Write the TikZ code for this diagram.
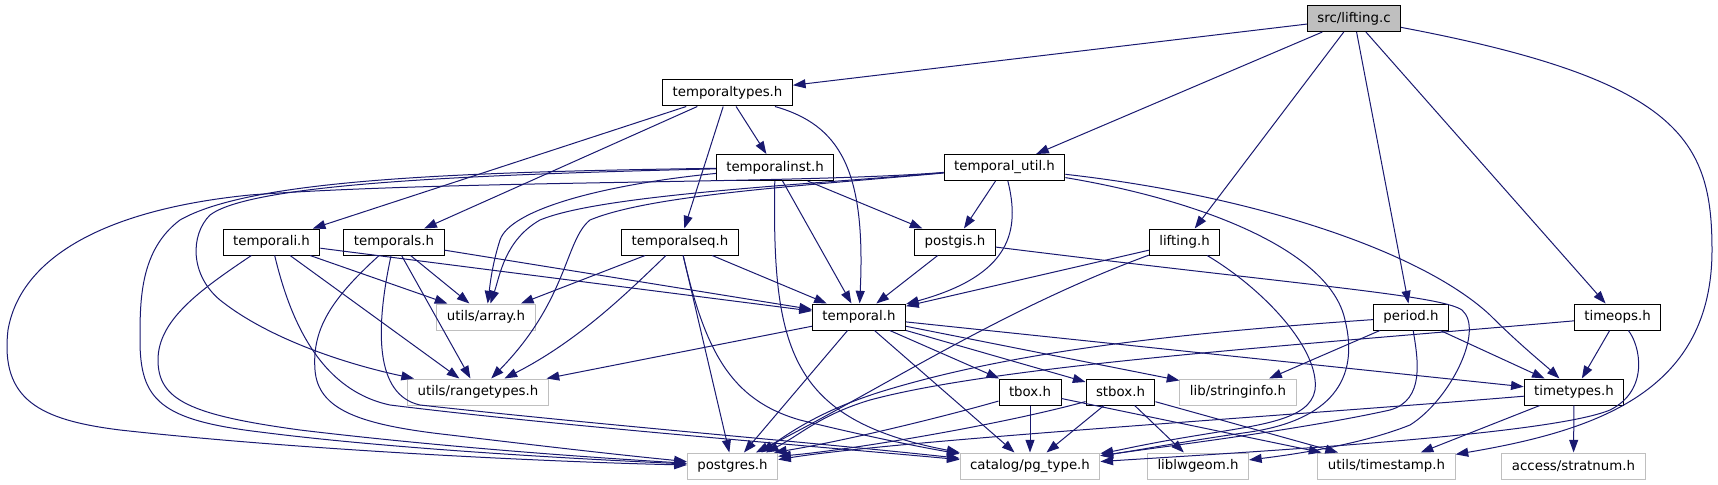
\documentclass[tikz,border=0pt]{standalone}
\usepackage{fontspec}
\setmainfont{DejaVu Sans}
\usetikzlibrary{arrows.meta}
\definecolor{incblue}{RGB}{25,25,112}

\begin{document}
\begin{tikzpicture}[x=0.75pt,y=-0.75pt,
  hdr/.style={draw=black,line width=0.75pt,fill=white,inner xsep=7.5pt,inner ysep=0pt,
    minimum height=19.5pt,font=\fontsize{10}{12}\selectfont},
  sys/.style={hdr,draw=black!25},
  inc/.style={draw=incblue,line width=0.75pt,-{Triangle[length=9.5pt,width=6.75pt]}}]

\useasboundingbox (0,0) rectangle (1718,485);

% Source file
\node[hdr,fill=black!25] (lifc) at (1354,18.5) {src/lifting.c};

% Headers
\node[hdr] (ttypes) at (727.5,93) {temporaltypes.h};
\node[hdr] (tinst) at (775,167.5) {temporalinst.h};
\node[hdr] (tutil) at (1004.5,167.5) {temporal\_util.h};
\node[hdr] (tempi) at (271.5,242) {temporali.h};
\node[hdr] (temps) at (394,242) {temporals.h};
\node[hdr] (tseq) at (680,242) {temporalseq.h};
\node[hdr] (pgis) at (955,242) {postgis.h};
\node[hdr] (lifth) at (1184.5,242) {lifting.h};
\node[sys] (array) at (486,317) {utils/array.h};
\node[hdr] (temporal) at (859,317) {temporal.h};
\node[hdr] (period) at (1411,317) {period.h};
\node[hdr] (timeops) at (1617.5,317) {timeops.h};
\node[sys] (range) at (478,392) {utils/rangetypes.h};
\node[hdr] (tbox) at (1030,392) {tbox.h};
\node[hdr] (stbox) at (1120.5,392) {stbox.h};
\node[sys] (strinfo) at (1238,392) {lib/stringinfo.h};
\node[hdr] (timetypes) at (1574,392) {timetypes.h};

% System headers
\node[sys] (postgres) at (732.5,466) {postgres.h};
\node[sys] (pgtype) at (1030,466) {catalog/pg\_type.h};
\node[sys] (lwgeom) at (1198,466) {liblwgeom.h};
\node[sys] (tstamp) at (1386.5,466) {utils/timestamp.h};
\node[sys] (stratnum) at (1573.5,466) {access/stratnum.h};

% src/lifting.c
\foreach \t in {ttypes,tutil,lifth,period,timeops}
  \draw[inc] (lifc) -- (\t);
\draw[inc] (lifc) .. controls (1680,80) and (1712,140) .. (1712,250)
  .. controls (1712,390) and (1600,430) .. (tstamp);

% temporaltypes.h
\foreach \t in {tempi,temps,tseq,tinst}
  \draw[inc] (ttypes) -- (\t);
\draw[inc] (ttypes) .. controls (840,125) and (866,170) .. (temporal);

% temporalinst.h
\draw[inc] (tinst) -- (temporal);
\draw[inc] (tinst) -- (pgis);
\draw[inc] (tinst) .. controls (450,172) and (250,180) .. (180,220)
  .. controls (140,250) and (140,300) .. (140,340)
  .. controls (140,400) and (160,420) .. (260,432)
  .. controls (400,450) and (600,460) .. (postgres);
\draw[inc] (tinst) .. controls (450,175) and (250,185) .. (210,215)
  .. controls (190,235) and (190,275) .. (220,300)
  .. controls (270,340) and (350,365) .. (range);
\draw[inc] (tinst) .. controls (600,185) and (510,210) .. (500,240)
  .. controls (492,265) and (490,285) .. (array);
\draw[inc] (tinst) .. controls (772,350) and (790,420) .. (pgtype);

% temporal_util.h
\draw[inc] (tutil) -- (pgis);
\draw[inc] (tutil) .. controls (1020,230) and (1012,275) .. (temporal);
\draw[inc] (tutil) .. controls (800,184) and (450,180) .. (250,195)
  .. controls (100,210) and (20,260) .. (8,330)
  .. controls (0,400) and (40,420) .. (120,430)
  .. controls (300,450) and (550,462) .. (postgres);
\draw[inc] (tutil) .. controls (800,185) and (600,195) .. (540,220)
  .. controls (505,240) and (500,275) .. (array);
\draw[inc] (tutil) .. controls (800,186) and (650,195) .. (590,220)
  .. controls (565,240) and (568,300) .. (range);
\draw[inc] (tutil) .. controls (1200,200) and (1330,250) .. (1345,320)
  .. controls (1360,380) and (1330,420) .. (1250,432)
  .. controls (1180,442) and (1140,450) .. (pgtype);
\draw[inc] (tutil) .. controls (1250,195) and (1420,250) .. (1490,315)
  .. controls (1520,345) and (1545,365) .. (timetypes);

% temporali.h, temporals.h, temporalseq.h
\foreach \s in {tempi,temps}
  \foreach \t in {array,range,temporal}
    \draw[inc] (\s) -- (\t);
\draw[inc] (tempi) .. controls (200,290) and (158,320) .. (158,360)
  .. controls (158,400) and (190,415) .. (300,430)
  .. controls (450,448) and (600,458) .. (postgres);
\draw[inc] (tempi) .. controls (290,320) and (320,390) .. (390,405)
  .. controls (550,425) and (800,445) .. (pgtype);
\draw[inc] (temps) .. controls (330,300) and (312,330) .. (315,370)
  .. controls (318,410) and (360,425) .. (450,435)
  .. controls (550,447) and (620,455) .. (postgres);
\draw[inc] (temps) .. controls (375,330) and (375,395) .. (420,405)
  .. controls (600,425) and (820,443) .. (pgtype);
\draw[inc] (tseq) -- (array);
\draw[inc] (tseq) -- (postgres);
\draw[inc] (tseq) -- (temporal);
\draw[inc] (tseq) .. controls (630,290) and (580,340) .. (range);
\draw[inc] (tseq) .. controls (705,350) and (730,400) .. (800,420)
  .. controls (860,435) and (920,447) .. (pgtype);

% postgis.h, lifting.h
\draw[inc] (pgis) -- (temporal);
\draw[inc] (pgis) .. controls (1300,285) and (1440,295) .. (1462,310)
  .. controls (1485,330) and (1450,400) .. (1410,425)
  .. controls (1360,445) and (1290,455) .. (lwgeom);
\draw[inc] (lifth) -- (temporal);
\draw[inc] (lifth) .. controls (1000,310) and (880,390) .. (postgres.30);
\draw[inc] (lifth) .. controls (1265,290) and (1320,350) .. (1315,390)
  .. controls (1310,420) and (1260,425) .. (1200,435)
  .. controls (1150,443) and (1120,450) .. (pgtype);

% temporal.h
\foreach \t in {range,postgres,pgtype,tbox,stbox,strinfo,timetypes}
  \draw[inc] (temporal) -- (\t);

% period.h, timeops.h
\draw[inc] (period) -- (strinfo);
\draw[inc] (period) -- (timetypes);
\draw[inc] (period) .. controls (1150,335) and (1000,355) .. (880,392)
  .. controls (830,408) and (800,425) .. (postgres.25);
\draw[inc] (period) .. controls (1418,360) and (1425,400) .. (1390,410)
  .. controls (1300,430) and (1160,447) .. (pgtype);
\draw[inc] (timeops) -- (timetypes);
\draw[inc] (timeops) .. controls (1300,345) and (1000,365) .. (870,400)
  .. controls (820,415) and (800,435) .. (postgres.22);
\draw[inc] (timeops) .. controls (1640,345) and (1650,390) .. (1610,410)
  .. controls (1550,435) and (1250,452) .. (pgtype);

% tbox.h, stbox.h, timetypes.h
\draw[inc] (tbox) -- (pgtype);
\draw[inc] (tbox) -- (tstamp);
\draw[inc] (tbox) .. controls (950,415) and (850,440) .. (postgres.18);
\foreach \t in {pgtype,lwgeom,tstamp}
  \draw[inc] (stbox) -- (\t);
\draw[inc] (stbox) .. controls (1000,425) and (850,450) .. (postgres.12);
\draw[inc] (timetypes) -- (tstamp);
\draw[inc] (timetypes) -- (stratnum);
\draw[inc] (timetypes) .. controls (1300,415) and (900,440) .. (postgres.8);

\end{tikzpicture}
\end{document}
